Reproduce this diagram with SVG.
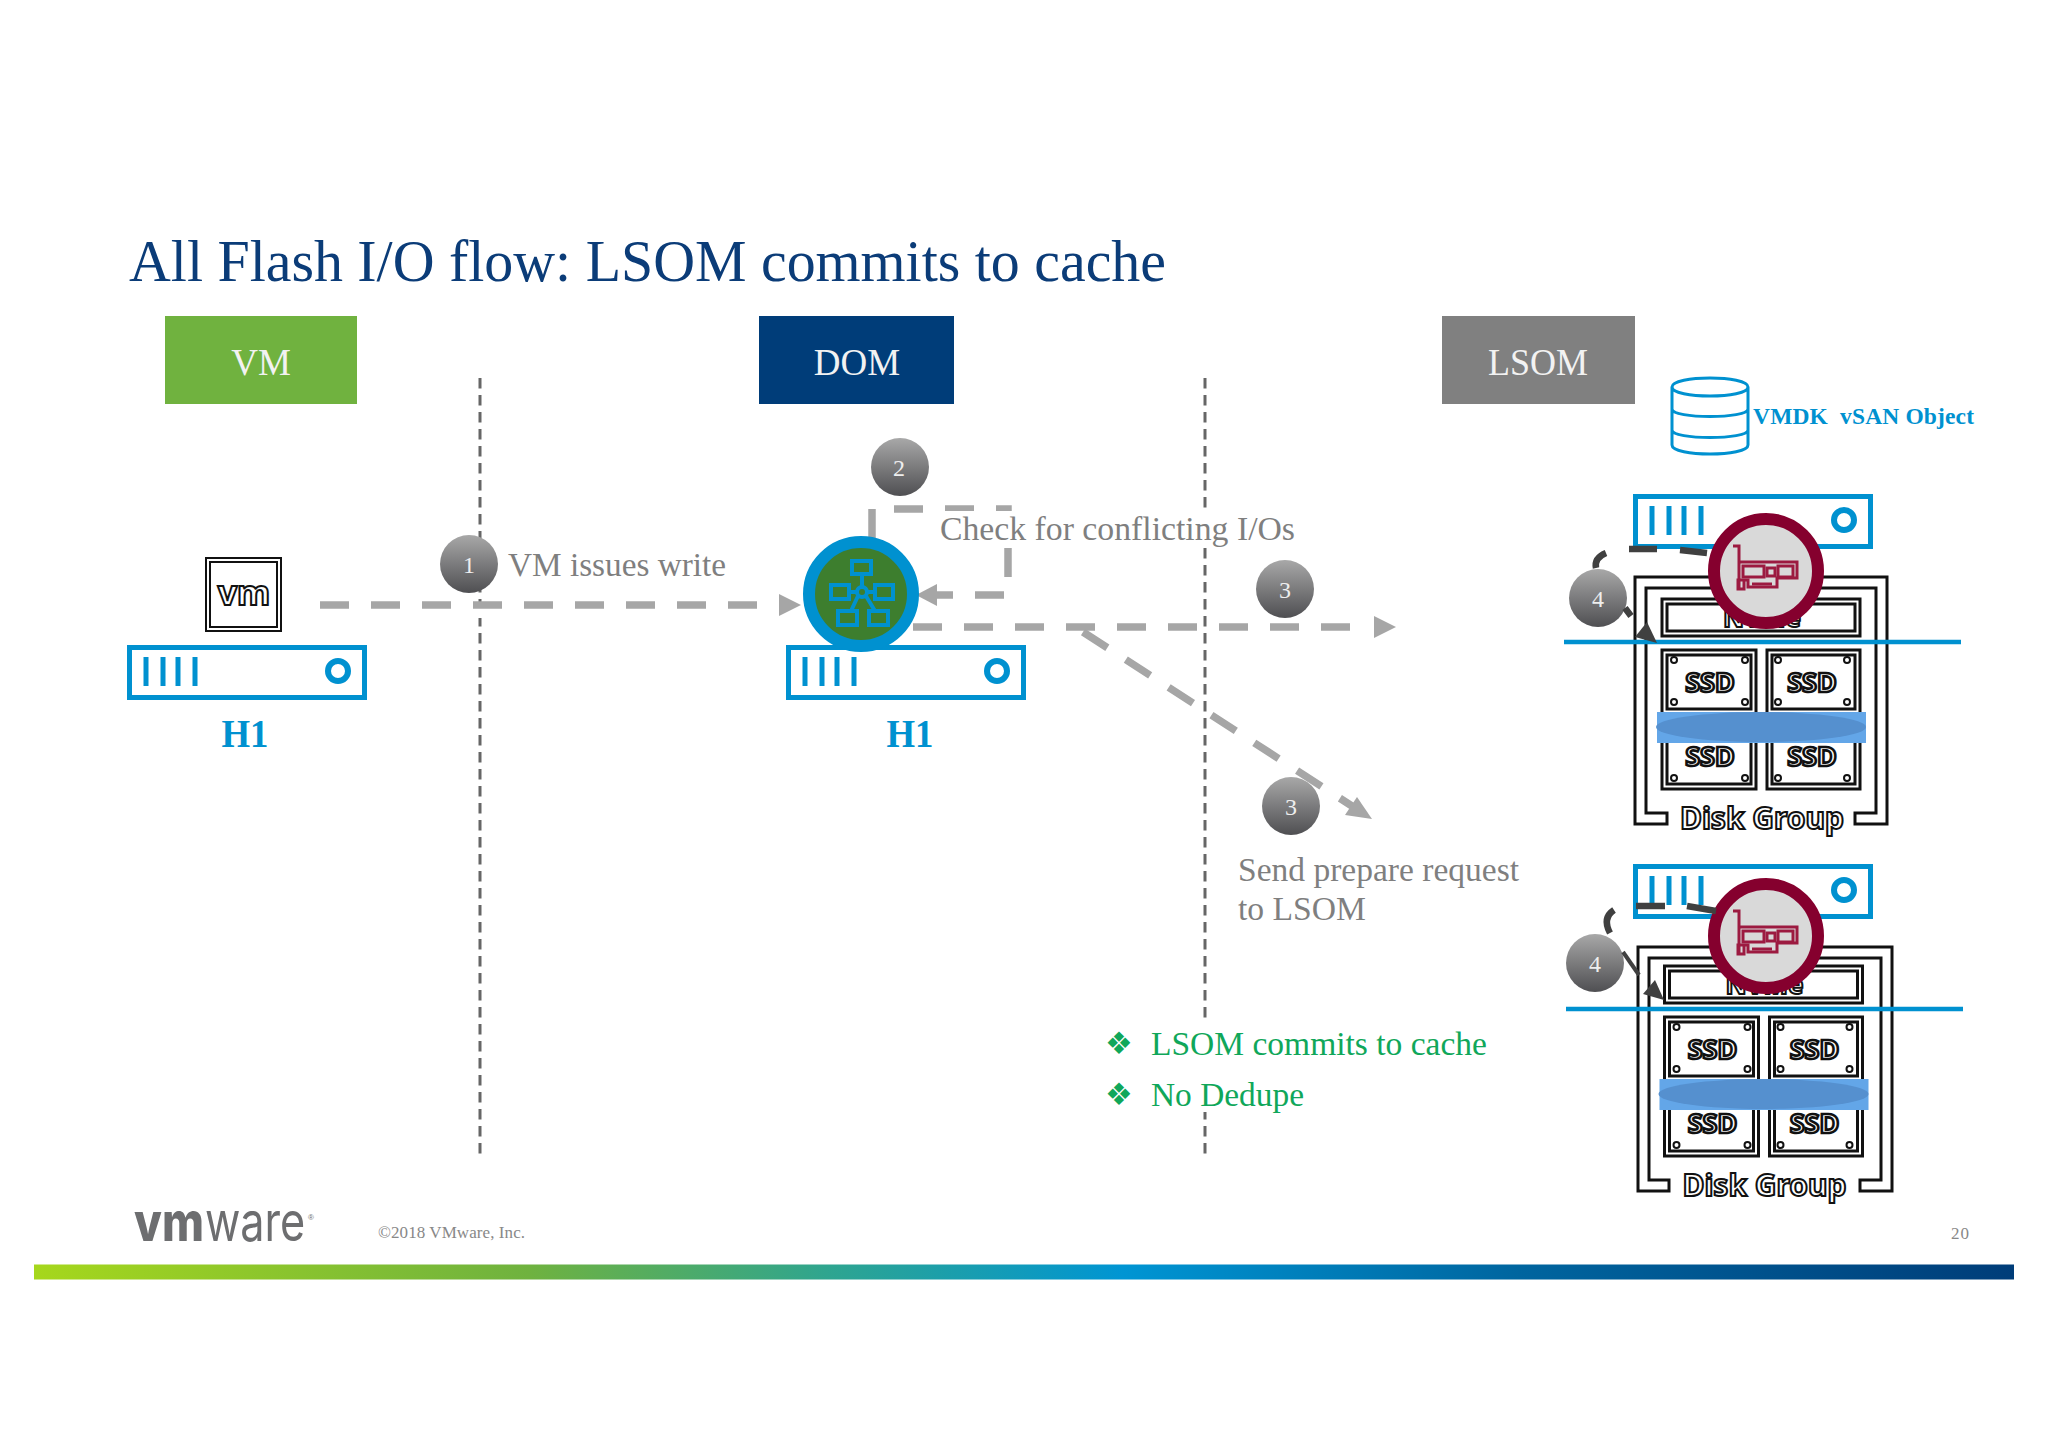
<svg xmlns="http://www.w3.org/2000/svg" xmlns:xlink="http://www.w3.org/1999/xlink" width="2048" height="1447" viewBox="0 0 2048 1447">
<style>
.serif{font-family:"Liberation Serif","Times New Roman",serif}
.lbl{font-size:33px;fill:#7f7f7f}
.grn{font-size:33px;fill:#10a75a}
.hdr{font-size:37px;fill:#f2f2f2;text-anchor:middle}
.h1{font-size:41px;font-weight:bold;fill:#0091d0;text-anchor:middle}
.num{font-size:24px;fill:#eee;text-anchor:middle}
.flow{fill:none;stroke:#a6a6a6;stroke-width:7.5;stroke-dasharray:29 22}
.vdash{fill:none;stroke:#666;stroke-width:3;stroke-dasharray:10.5 6.5}
.head{fill:#a6a6a6}
.dk{fill:none;stroke:#404040;stroke-width:6.5}
.dkh{fill:#404040}
.blk{fill:none;stroke:#111;stroke-width:3}
.out{font-family:"Noto Sans","DejaVu Sans",sans-serif;font-weight:bold;fill:#fff;stroke:#111;stroke-width:2;text-anchor:middle}
.ssd{font-size:27px;stroke-width:2.6}
.blue{fill:none;stroke:#0091d0}
.nic{fill:none;stroke:#9c1a40;stroke-width:3}
</style>
<defs>
<linearGradient id="bg" x1="0" y1="0" x2="0" y2="1"><stop offset="0" stop-color="#a8a8a8"/><stop offset="1" stop-color="#4f4f52"/></linearGradient>
<linearGradient id="bar" x1="0" y1="0" x2="1" y2="0"><stop offset="0" stop-color="#a6d71c"/><stop offset=".25" stop-color="#6fb23f"/><stop offset=".4" stop-color="#2fa58f"/><stop offset=".55" stop-color="#0095d3"/><stop offset=".75" stop-color="#00659f"/><stop offset="1" stop-color="#003d79"/></linearGradient>
<g id="server"><rect x="2.5" y="2.5" width="235" height="50" fill="#fff" stroke="#0091d0" stroke-width="5"/><path d="M19 12V41M36 12V41M51 12V41M68 12V41" class="blue" stroke-width="5"/><circle cx="211" cy="26" r="10" class="blue" stroke-width="6"/></g>
<g id="nic"><circle cx="1766" cy="571" r="52" fill="#d9d9d9" stroke="#85002e" stroke-width="12"/>
<path class="nic" d="M1733 546H1739V589M1739 562H1797V578H1777V587H1748V580H1738V589H1744V580"/><rect class="nic" x="1743" y="566" width="21" height="11"/><rect class="nic" x="1778" y="566" width="15" height="11"/><rect class="nic" x="1767" y="568" width="8" height="8"/><path class="nic" d="M1752 584H1772"/></g>
<g id="ssds">
<rect class="blk" x="1662" y="650" width="94" height="139"/><rect class="blk" x="1767" y="650" width="93" height="139"/>
<rect class="blk" x="1667" y="655" width="84" height="54"/><rect class="blk" x="1772" y="655" width="83" height="54"/>
<rect class="blk" x="1667" y="740" width="84" height="44"/><rect class="blk" x="1772" y="740" width="83" height="44"/>
<g fill="#fff" stroke="#111" stroke-width="2"><circle cx="1674" cy="660" r="3"/><circle cx="1745" cy="660" r="3"/><circle cx="1674" cy="702" r="3"/><circle cx="1745" cy="702" r="3"/><circle cx="1778" cy="660" r="3"/><circle cx="1847" cy="660" r="3"/><circle cx="1778" cy="702" r="3"/><circle cx="1847" cy="702" r="3"/><circle cx="1674" cy="778" r="3"/><circle cx="1745" cy="778" r="3"/><circle cx="1778" cy="778" r="3"/><circle cx="1847" cy="778" r="3"/></g>
<text class="out ssd" x="1710" y="692">SSD</text><text class="out ssd" x="1812" y="692">SSD</text>
<text class="out ssd" x="1710" y="766">SSD</text><text class="out ssd" x="1812" y="766">SSD</text>
<rect x="1657" y="712" width="209" height="31" fill="#63a6e8"/><ellipse cx="1761" cy="727" rx="105" ry="15" fill="#5590cf"/>
<rect class="blk" x="1662" y="599" width="198" height="37"/><rect class="blk" x="1667" y="604" width="188" height="27"/>
<text class="out" x="1762" y="627" font-size="26">NVMe</text>
<text class="out" x="1762" y="829" font-size="30">Disk Group</text>
</g>
</defs>
<rect width="2048" height="1447" fill="#fff"/>
<g id="title"><text class="serif" x="129" y="281" font-size="59" fill="#0b3c78" textLength="1037" lengthAdjust="spacingAndGlyphs">All Flash I/O flow: LSOM commits to cache</text></g>
<g id="node-vm-header"><rect x="165" y="316" width="192" height="88" fill="#70b23f"/><text class="serif hdr" x="261" y="375">VM</text></g>
<g id="node-dom-header"><rect x="759" y="316" width="195" height="88" fill="#003d79"/><text class="serif hdr" x="857" y="375">DOM</text></g>
<g id="node-lsom-header"><rect x="1442" y="316" width="193" height="88" fill="#808080"/><text class="serif hdr" x="1538" y="375" textLength="100" lengthAdjust="spacingAndGlyphs">LSOM</text></g>

<g id="connectors">
<path class="vdash" d="M480 378V1154"/><path class="vdash" d="M1205 378V1154"/>
<path stroke="#fff" stroke-width="8" d="M480 608V618"/>
<path class="flow" d="M320 605H770"/><path class="head" d="M779 594L801 605L779 616Z"/>
<path class="flow" d="M872 538V509H1008V595H937"/><path class="head" d="M916 595L937 584V606Z"/>
<path class="flow" d="M913 627H1352"/><path class="head" d="M1374 616L1396 627L1374 638Z"/>
<path class="flow" d="M1083 632L1355 808"/><path class="head" d="M1372 819L1345 815L1357 797Z"/>
<rect x="938" y="511" width="362" height="37" fill="#fff"/>
<rect x="1100" y="1019" width="400" height="93" fill="#fff"/>
</g>

<g id="label-write"><text class="serif lbl" x="508" y="576" textLength="218" lengthAdjust="spacingAndGlyphs">VM issues write</text></g>
<g id="label-check"><text class="serif lbl" x="940" y="540" textLength="355" lengthAdjust="spacingAndGlyphs">Check for conflicting I/Os</text></g>
<g id="label-prepare"><text class="serif lbl" x="1238" y="881" textLength="281" lengthAdjust="spacingAndGlyphs">Send prepare request</text><text class="serif lbl" x="1238" y="920" textLength="128" lengthAdjust="spacingAndGlyphs">to LSOM</text></g>
<g id="label-notes"><text x="1105" y="1054" font-size="31" fill="#10a75a" font-family="DejaVu Sans,sans-serif">❖</text><text class="serif grn" x="1151" y="1055" textLength="336" lengthAdjust="spacingAndGlyphs">LSOM commits to cache</text><text x="1105" y="1105" font-size="31" fill="#10a75a" font-family="DejaVu Sans,sans-serif">❖</text><text class="serif grn" x="1151" y="1106" textLength="153" lengthAdjust="spacingAndGlyphs">No Dedupe</text></g>

<g id="node-vm"><rect x="206" y="558" width="75" height="73" fill="#fff" stroke="#111" stroke-width="2"/><rect x="210" y="562" width="67" height="65" fill="none" stroke="#111" stroke-width="2"/><text class="out" x="244" y="605" font-size="34" stroke-width="1.4">vm</text></g>
<g id="node-h1-left"><use xlink:href="#server" href="#server" x="127" y="645"/><text class="serif h1" x="245" y="747" textLength="47" lengthAdjust="spacingAndGlyphs">H1</text></g>
<g id="node-h1-dom"><use xlink:href="#server" href="#server" x="786" y="645"/><text class="serif h1" x="910" y="747" textLength="47" lengthAdjust="spacingAndGlyphs">H1</text>
<circle cx="861" cy="594" r="52" fill="#3d7e2e" stroke="#0091d0" stroke-width="12"/>
<g class="blue" stroke-width="4"><rect x="852" y="561" width="19" height="13"/><rect x="831" y="585" width="18" height="14"/><rect x="875" y="585" width="18" height="14"/><rect x="838" y="611" width="19" height="14"/><rect x="869" y="611" width="19" height="14"/><circle cx="862" cy="592" r="5"/><path d="M862 574V587M849 592H857M875 592H867M851 611L858 596M875 611L866 596"/></g></g>

<g id="badge-1"><circle cx="469" cy="564" r="29" fill="url(#bg)"/><text class="serif num" x="469" y="573">1</text></g>
<g id="badge-2"><circle cx="900" cy="467" r="29" fill="url(#bg)"/><text class="serif num" x="899" y="476">2</text></g>
<g id="badge-3a"><circle cx="1285" cy="589" r="29" fill="url(#bg)"/><text class="serif num" x="1285" y="598">3</text></g>
<g id="badge-3b"><circle cx="1291" cy="806" r="29" fill="url(#bg)"/><text class="serif num" x="1291" y="815">3</text></g>

<g id="node-object"><path class="blue" stroke-width="3" d="M1672 387C1672 375 1748 375 1748 387V445C1748 457 1672 457 1672 445ZM1672 387C1672 399 1748 399 1748 387M1672 409C1672 419 1748 419 1748 409M1672 430C1672 440 1748 440 1748 430"/><text class="serif" x="1753" y="424" font-size="23.5" font-weight="bold" fill="#0091d0" style="white-space:pre" textLength="221" lengthAdjust="spacing">VMDK  vSAN Object</text></g>

<g id="node-lsom-host-1">
<use xlink:href="#server" href="#server" x="1633" y="494"/>
<path class="blk" d="M1667 824H1635V577H1887V824H1855V813H1876V588H1646V813H1667Z"/>
<use xlink:href="#ssds" href="#ssds"/>
<path d="M1564 642H1961" class="blue" stroke-width="4.5"/>
<use xlink:href="#nic" href="#nic"/>
<g id="badge-4a"><circle cx="1598" cy="598" r="29" fill="url(#bg)"/><text class="serif num" x="1598" y="607">4</text></g>
<path class="dk" d="M1707 553L1680 550M1657 549H1629M1606 553Q1594 558 1596 568M1625 608L1631 616"/><path class="dkh" d="M1647 622L1635 637L1657 643Z"/>
</g>
<g id="node-lsom-host-2">
<use xlink:href="#server" href="#server" x="1633" y="864"/>
<path class="blk" d="M1669 1191H1638V947H1892V1191H1860V1180H1881V958H1649V1180H1669Z"/>
<use xlink:href="#ssds" href="#ssds" x="2.5" y="367"/>
<path d="M1566 1009H1963" class="blue" stroke-width="4.5"/>
<use xlink:href="#nic" href="#nic" y="365"/>
<g id="badge-4b"><circle cx="1595" cy="963" r="29" fill="url(#bg)"/><text class="serif num" x="1595" y="972">4</text></g>
<path class="dk" d="M1716 911L1687 906M1665 906H1636M1614 910Q1602 918 1610 933"/><path class="dk" style="stroke-width:4" d="M1623 952L1639 975"/><path class="dkh" d="M1655 980L1643 994L1664 1000Z"/>
</g>

<g id="footer">
<text transform="translate(134 1241) scale(.84 1)" font-family="Inter,'Liberation Sans',sans-serif" font-size="54" font-weight="800" fill="#6d6e70">vm</text>
<text transform="translate(205 1241) scale(.8 1)" font-family="Inter,'Liberation Sans',sans-serif" font-size="54" fill="#6d6e70">ware</text>
<text x="308" y="1220" font-family="Liberation Sans,sans-serif" font-size="8" fill="#6d6e70">®</text>
<text class="serif" x="378" y="1238" font-size="17" fill="#888" textLength="147">©2018 VMware, Inc.</text>
<text class="serif" x="1951" y="1239" font-size="17" fill="#888" textLength="18">20</text>
<rect x="34" y="1264.5" width="1980" height="15" fill="url(#bar)"/>
</g>
</svg>
